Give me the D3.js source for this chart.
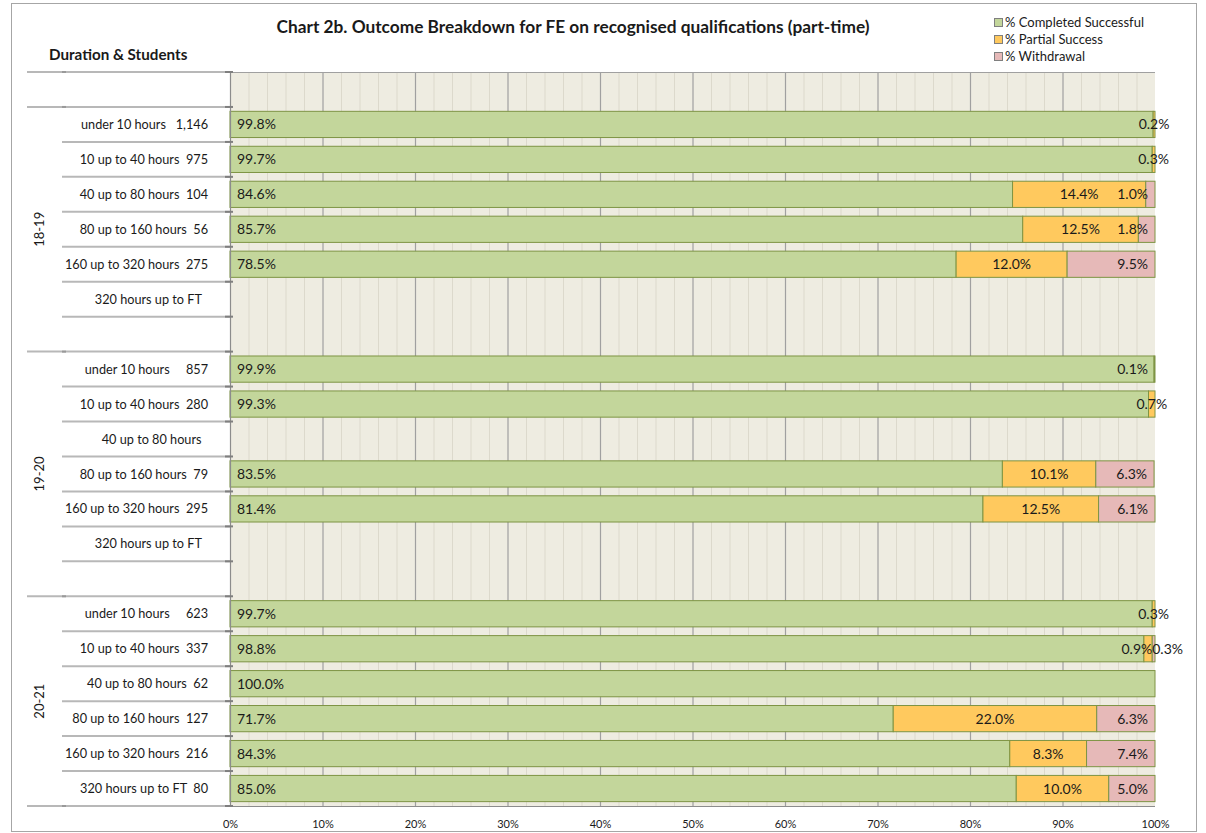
<!DOCTYPE html>
<html><head><meta charset="utf-8">
<script src="https://cdn.jsdelivr.net/npm/d3@7"></script>
<style>
html,body{margin:0;padding:0;background:#fff;}
text{font-family:Lato,"Liberation Sans",sans-serif;white-space:pre;}
</style></head>
<body>
<svg id="chart" width="1206" height="833"></svg>
<script>
// ---- data (top row to bottom row) ----
const groups = ["", "18-19","18-19","18-19","18-19","18-19","18-19","18-19",
  "19-20","19-20","19-20","19-20","19-20","19-20","19-20",
  "20-21","20-21","20-21","20-21","20-21","20-21"];
const groupNames = ["18-19","19-20","20-21"];
const categories = ["",
  "under 10 hours   1,146","10 up to 40 hours  975","40 up to 80 hours  104","80 up to 160 hours  56","160 up to 320 hours  275","320 hours up to FT  ","",
  "under 10 hours     857","10 up to 40 hours  280","40 up to 80 hours  ","80 up to 160 hours  79","160 up to 320 hours  295","320 hours up to FT  ","",
  "under 10 hours     623","10 up to 40 hours  337","40 up to 80 hours  62","80 up to 160 hours  127","160 up to 320 hours  216","320 hours up to FT  80"];
const completed = [null, 99.8,99.7,84.6,85.7,78.5,null,null, 99.9,99.3,null,83.5,81.4,null,null, 99.7,98.8,100.0,71.7,84.3,85.0];
const partial   = [null, 0.2,0.3,14.4,12.5,12.0,null,null, 0,0.7,null,10.1,12.5,null,null, 0.3,0.9,0,22.0,8.3,10.0];
const withdrawal= [null, 0,0,1.0,1.8,9.5,null,null, 0.1,0,null,6.3,6.1,null,null, 0,0.3,0,6.3,7.4,5.0];
const seriesNames = ["% Completed Successful","% Partial Success","% Withdrawal"];
const xTicks = [0,10,20,30,40,50,60,70,80,90,100];
const title = "Chart 2b. Outcome Breakdown for FE on recognised qualifications (part-time)";
const axisTitle = "Duration & Students";

// ---- styles ----
const colors = ["#C3D69B","#FFC95E","#E6B9B8"];
const barStroke = "#7E9444";
const plotBg = "#EEECE1";

const svg = d3.select("#chart");
const P = {l:230, r:1155, t:72, b:806};

// outer border
svg.append("rect").attr("x",11.5).attr("y",3.5).attr("width",1185).attr("height",828)
  .attr("fill","#fff").attr("stroke","#a6a6a6").attr("stroke-width",1);

const x = d3.scaleLinear().domain([0,100]).range([P.l,P.r]);
const y = d3.scaleBand().domain(d3.range(categories.length)).range([P.t,P.b])
  .paddingInner(0.25).paddingOuter(0.125);
const step = y.step();
const boundary = i => y(i) - (step - y.bandwidth())/2;

// plot background
svg.append("rect").attr("x",P.l).attr("y",P.t).attr("width",P.r-P.l).attr("height",P.b-P.t).attr("fill",plotBg);

// minor grid
svg.append("g").selectAll("line").data(d3.range(2,100,2).filter(v=>v%10!==0)).join("line")
  .attr("x1",d=>x(d)+0.5).attr("x2",d=>x(d)+0.5).attr("y1",P.t).attr("y2",P.b)
  .attr("stroke","#DCD9CC").attr("stroke-width",1);
// major grid
svg.append("g").selectAll("line").data(xTicks.filter(v=>v>0 && v<100)).join("line")
  .attr("x1",d=>x(d)+0.5).attr("x2",d=>x(d)+0.5).attr("y1",P.t).attr("y2",P.b)
  .attr("stroke","#A0A0A0").attr("stroke-width",1.2);

// top border of plot
svg.append("line").attr("x1",P.l).attr("x2",P.r).attr("y1",P.t+0.5).attr("y2",P.t+0.5)
  .attr("stroke","#A0A0A0").attr("stroke-width",1.2);

// bars
const rows = d3.range(categories.length).filter(i=>completed[i]!==null);
const segs = [];
rows.forEach(i=>{
  const vals=[completed[i],partial[i],withdrawal[i]];
  let acc=0;
  vals.forEach((v,k)=>{ if(v>0){segs.push({i,k,x0:acc,x1:acc+v,v});} acc+=v; });
});
svg.append("g").selectAll("rect").data(segs).join("rect")
  .attr("x",d=>x(d.x0)).attr("width",d=>Math.max(0.8,x(d.x1)-x(d.x0)))
  .attr("y",d=>y(d.i)).attr("height",y.bandwidth())
  .attr("fill",d=>colors[d.k]).attr("stroke",barStroke).attr("stroke-width",1);

// data labels
const fmt = v=>v.toFixed(1)+"%";
const crowded = i => partial[i]>0 && partial[i]<2 && withdrawal[i]>0 && withdrawal[i]<2;
function labelPos(d){
  if(d.k===0) return [x(d.x0)+7,"start"];
  if(crowded(d.i)) return d.k===1 ? [x(d.x1),"end"] : [x(d.x0),"start"];
  if(d.k===2) return [x(d.x1)-7,"end"];
  return [(x(d.x0)+x(d.x1))/2,"middle"];
}
svg.append("g").selectAll("text").data(segs).join("text")
  .attr("x",d=>labelPos(d)[0]).attr("text-anchor",d=>labelPos(d)[1])
  .attr("y",d=>y(d.i)+y.bandwidth()/2).attr("dy","0.36em")
  .attr("font-size",14).attr("fill","#1a1a1a").text(d=>fmt(d.v));

// left axis line
svg.append("line").attr("x1",P.l+0.5).attr("x2",P.l+0.5).attr("y1",P.t).attr("y2",P.b)
  .attr("stroke","#8C8C8C").attr("stroke-width",1.2);
// bottom axis line
svg.append("line").attr("x1",P.l).attr("x2",P.r).attr("y1",P.b+0.5).attr("y2",P.b+0.5)
  .attr("stroke","#8C8C8C").attr("stroke-width",1);

// category separators
const bounds = d3.range(categories.length+1).map(i=> i<categories.length ? boundary(i) : P.b);
bounds.forEach((b,i)=>{
  const isGroup = i===0 || i===categories.length || groups[i]!==groups[i-1];
  svg.append("line").attr("x1",isGroup?27:62).attr("x2",P.l).attr("y1",b).attr("y2",b)
    .attr("stroke","#B8B8B8").attr("stroke-width",2);
  svg.append("line").attr("x1",P.l-5).attr("x2",P.l+3).attr("y1",b).attr("y2",b)
    .attr("stroke","#7f7f7f").attr("stroke-width",2);
  if(isGroup) svg.append("line").attr("x1",62).attr("x2",66).attr("y1",b).attr("y2",b)
    .attr("stroke","#999").attr("stroke-width",2);
});

// category labels
svg.append("g").selectAll("text").data(categories).join("text")
  .attr("x",208).attr("text-anchor","end")
  .attr("y",(d,i)=>y(i)+y.bandwidth()/2).attr("dy","0.36em")
  .attr("font-size",12.7).attr("fill","#1a1a1a").text(d=>d);

// group labels
groupNames.forEach(g=>{
  const idx = groups.map((v,i)=>v===g?i:-1).filter(i=>i>=0);
  const top = boundary(idx[0]);
  const bot = idx[idx.length-1]+1<categories.length ? boundary(idx[idx.length-1]+1) : P.b;
  const cy=(top+bot)/2;
  svg.append("text").attr("transform",`translate(44,${cy}) rotate(-90)`)
    .attr("text-anchor","middle").attr("font-size",13).attr("fill","#1a1a1a").text(g);
});

// x axis
const xa = svg.append("g").attr("transform",`translate(0,${P.b+11})`)
  .call(d3.axisBottom(x).tickValues(xTicks).tickFormat(d=>d+"%").tickSize(0));
xa.select(".domain").remove();
xa.selectAll("text").attr("font-family","Lato").attr("font-size",11).attr("fill","#1a1a1a");

// title
svg.append("text").attr("x",573).attr("y",33).attr("text-anchor","middle")
  .attr("font-size",17.3).attr("font-weight","bold").attr("fill","#1a1a1a").text(title);
svg.append("text").attr("x",49).attr("y",60)
  .attr("font-size",15.2).attr("font-weight","bold").attr("fill","#1a1a1a").text(axisTitle);

// legend
const lg = svg.append("g").attr("transform","translate(994,18)");
seriesNames.forEach((s,k)=>{
  const g=lg.append("g").attr("transform",`translate(0,${k*17})`);
  g.append("rect").attr("x",0.5).attr("y",0.5).attr("width",8).attr("height",8)
    .attr("fill",colors[k]).attr("stroke","#7f7f7f").attr("stroke-width",1);
  g.append("text").attr("x",11).attr("y",4.5).attr("dy","0.36em")
    .attr("font-size",13).attr("fill","#1a1a1a").text(s);
});
</script>
</body></html>
